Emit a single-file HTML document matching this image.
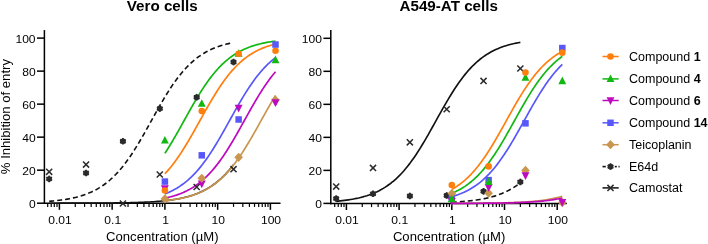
<!DOCTYPE html><html><head><meta charset="utf-8"><style>html,body{margin:0;padding:0;background:#fff;overflow:hidden}svg{display:block;will-change:transform;transform:translateZ(0)}</style></head><body>
<svg width="708" height="244" viewBox="0 0 708 244">
<rect width="708" height="244" fill="#fff"/>
<line x1="44.40" y1="30.10" x2="44.40" y2="203.95" stroke="#000" stroke-width="1.5"/>
<line x1="43.65" y1="203.20" x2="280.50" y2="203.20" stroke="#000" stroke-width="1.5"/>
<line x1="37.00" y1="203.20" x2="44.40" y2="203.20" stroke="#000" stroke-width="1.5"/>
<text transform="translate(35.60,207.60) scale(1.0250,1)" font-size="11.80" text-anchor="end" font-family="Liberation Sans, sans-serif" fill="#000">0</text>
<line x1="37.00" y1="170.18" x2="44.40" y2="170.18" stroke="#000" stroke-width="1.5"/>
<text transform="translate(35.60,174.58) scale(1.0250,1)" font-size="11.80" text-anchor="end" font-family="Liberation Sans, sans-serif" fill="#000">20</text>
<line x1="37.00" y1="137.16" x2="44.40" y2="137.16" stroke="#000" stroke-width="1.5"/>
<text transform="translate(35.60,141.56) scale(1.0250,1)" font-size="11.80" text-anchor="end" font-family="Liberation Sans, sans-serif" fill="#000">40</text>
<line x1="37.00" y1="104.14" x2="44.40" y2="104.14" stroke="#000" stroke-width="1.5"/>
<text transform="translate(35.60,108.54) scale(1.0250,1)" font-size="11.80" text-anchor="end" font-family="Liberation Sans, sans-serif" fill="#000">60</text>
<line x1="37.00" y1="71.12" x2="44.40" y2="71.12" stroke="#000" stroke-width="1.5"/>
<text transform="translate(35.60,75.52) scale(1.0250,1)" font-size="11.80" text-anchor="end" font-family="Liberation Sans, sans-serif" fill="#000">80</text>
<line x1="37.00" y1="38.10" x2="44.40" y2="38.10" stroke="#000" stroke-width="1.5"/>
<text transform="translate(35.60,42.50) scale(1.0250,1)" font-size="11.80" text-anchor="end" font-family="Liberation Sans, sans-serif" fill="#000">100</text>
<line x1="47.70" y1="203.20" x2="47.70" y2="206.90" stroke="#000" stroke-width="1.20"/>
<line x1="51.23" y1="203.20" x2="51.23" y2="206.90" stroke="#000" stroke-width="1.20"/>
<line x1="54.29" y1="203.20" x2="54.29" y2="206.90" stroke="#000" stroke-width="1.20"/>
<line x1="56.99" y1="203.20" x2="56.99" y2="206.90" stroke="#000" stroke-width="1.20"/>
<line x1="59.40" y1="203.20" x2="59.40" y2="209.80" stroke="#000" stroke-width="1.50"/>
<line x1="75.28" y1="203.20" x2="75.28" y2="206.90" stroke="#000" stroke-width="1.20"/>
<line x1="84.57" y1="203.20" x2="84.57" y2="206.90" stroke="#000" stroke-width="1.20"/>
<line x1="91.16" y1="203.20" x2="91.16" y2="206.90" stroke="#000" stroke-width="1.20"/>
<line x1="96.27" y1="203.20" x2="96.27" y2="206.90" stroke="#000" stroke-width="1.20"/>
<line x1="100.45" y1="203.20" x2="100.45" y2="206.90" stroke="#000" stroke-width="1.20"/>
<line x1="103.98" y1="203.20" x2="103.98" y2="206.90" stroke="#000" stroke-width="1.20"/>
<line x1="107.04" y1="203.20" x2="107.04" y2="206.90" stroke="#000" stroke-width="1.20"/>
<line x1="109.74" y1="203.20" x2="109.74" y2="206.90" stroke="#000" stroke-width="1.20"/>
<line x1="112.15" y1="203.20" x2="112.15" y2="209.80" stroke="#000" stroke-width="1.50"/>
<line x1="128.03" y1="203.20" x2="128.03" y2="206.90" stroke="#000" stroke-width="1.20"/>
<line x1="137.32" y1="203.20" x2="137.32" y2="206.90" stroke="#000" stroke-width="1.20"/>
<line x1="143.91" y1="203.20" x2="143.91" y2="206.90" stroke="#000" stroke-width="1.20"/>
<line x1="149.02" y1="203.20" x2="149.02" y2="206.90" stroke="#000" stroke-width="1.20"/>
<line x1="153.20" y1="203.20" x2="153.20" y2="206.90" stroke="#000" stroke-width="1.20"/>
<line x1="156.73" y1="203.20" x2="156.73" y2="206.90" stroke="#000" stroke-width="1.20"/>
<line x1="159.79" y1="203.20" x2="159.79" y2="206.90" stroke="#000" stroke-width="1.20"/>
<line x1="162.49" y1="203.20" x2="162.49" y2="206.90" stroke="#000" stroke-width="1.20"/>
<line x1="164.90" y1="203.20" x2="164.90" y2="209.80" stroke="#000" stroke-width="1.50"/>
<line x1="180.78" y1="203.20" x2="180.78" y2="206.90" stroke="#000" stroke-width="1.20"/>
<line x1="190.07" y1="203.20" x2="190.07" y2="206.90" stroke="#000" stroke-width="1.20"/>
<line x1="196.66" y1="203.20" x2="196.66" y2="206.90" stroke="#000" stroke-width="1.20"/>
<line x1="201.77" y1="203.20" x2="201.77" y2="206.90" stroke="#000" stroke-width="1.20"/>
<line x1="205.95" y1="203.20" x2="205.95" y2="206.90" stroke="#000" stroke-width="1.20"/>
<line x1="209.48" y1="203.20" x2="209.48" y2="206.90" stroke="#000" stroke-width="1.20"/>
<line x1="212.54" y1="203.20" x2="212.54" y2="206.90" stroke="#000" stroke-width="1.20"/>
<line x1="215.24" y1="203.20" x2="215.24" y2="206.90" stroke="#000" stroke-width="1.20"/>
<line x1="217.65" y1="203.20" x2="217.65" y2="209.80" stroke="#000" stroke-width="1.50"/>
<line x1="233.53" y1="203.20" x2="233.53" y2="206.90" stroke="#000" stroke-width="1.20"/>
<line x1="242.82" y1="203.20" x2="242.82" y2="206.90" stroke="#000" stroke-width="1.20"/>
<line x1="249.41" y1="203.20" x2="249.41" y2="206.90" stroke="#000" stroke-width="1.20"/>
<line x1="254.52" y1="203.20" x2="254.52" y2="206.90" stroke="#000" stroke-width="1.20"/>
<line x1="258.70" y1="203.20" x2="258.70" y2="206.90" stroke="#000" stroke-width="1.20"/>
<line x1="262.23" y1="203.20" x2="262.23" y2="206.90" stroke="#000" stroke-width="1.20"/>
<line x1="265.29" y1="203.20" x2="265.29" y2="206.90" stroke="#000" stroke-width="1.20"/>
<line x1="267.99" y1="203.20" x2="267.99" y2="206.90" stroke="#000" stroke-width="1.20"/>
<line x1="270.40" y1="203.20" x2="270.40" y2="209.80" stroke="#000" stroke-width="1.50"/>
<text transform="translate(60.00,223.50) scale(1.0250,1)" font-size="11.80" text-anchor="middle" font-family="Liberation Sans, sans-serif" fill="#000">0.01</text>
<text transform="translate(112.75,223.50) scale(1.0250,1)" font-size="11.80" text-anchor="middle" font-family="Liberation Sans, sans-serif" fill="#000">0.1</text>
<text transform="translate(165.50,223.50) scale(1.0250,1)" font-size="11.80" text-anchor="middle" font-family="Liberation Sans, sans-serif" fill="#000">1</text>
<text transform="translate(218.25,223.50) scale(1.0250,1)" font-size="11.80" text-anchor="middle" font-family="Liberation Sans, sans-serif" fill="#000">10</text>
<text transform="translate(271.00,223.50) scale(1.0250,1)" font-size="11.80" text-anchor="middle" font-family="Liberation Sans, sans-serif" fill="#000">100</text>
<text transform="translate(162.20,10.70)" font-size="15.20" text-anchor="middle" font-weight="bold" font-family="Liberation Sans, sans-serif" fill="#000">Vero cells</text>
<text transform="translate(162.30,241.20) scale(1.0750,1)" font-size="12.20" text-anchor="middle" font-family="Liberation Sans, sans-serif" fill="#000">Concentration (µM)</text>
<text transform="translate(9.80,116.60) rotate(-90) scale(1.0750,1)" font-size="12.20" text-anchor="middle" font-family="Liberation Sans, sans-serif" fill="#000">% Inhibition of entry</text>
<polyline points="49.18,203.18 51.22,203.18 53.27,203.18 55.32,203.18 57.37,203.18 59.42,203.17 61.47,203.17 63.51,203.17 65.56,203.17 67.61,203.16 69.66,203.16 71.71,203.16 73.76,203.15 75.80,203.15 77.85,203.14 79.90,203.14 81.95,203.13 84.00,203.13 86.05,203.12 88.10,203.11 90.14,203.10 92.19,203.10 94.24,203.09 96.29,203.07 98.34,203.06 100.39,203.05 102.43,203.04 104.48,203.02 106.53,203.00 108.58,202.99 110.63,202.97 112.68,202.94 114.72,202.92 116.77,202.89 118.82,202.87 120.87,202.83 122.92,202.80 124.97,202.76 127.01,202.72 129.06,202.68 131.11,202.63 133.16,202.58 135.21,202.52 137.26,202.45 139.30,202.39 141.35,202.31 143.40,202.23 145.45,202.14 147.50,202.04 149.55,201.93 151.59,201.81 153.64,201.68 155.69,201.54 157.74,201.39 159.79,201.22 161.84,201.04 163.88,200.84 165.93,200.62 167.98,200.39 170.03,200.13 172.08,199.85 174.13,199.54 176.17,199.21 178.22,198.84 180.27,198.45 182.32,198.02 184.37,197.55 186.42,197.04 188.47,196.49 190.51,195.89 192.56,195.24 194.61,194.53 196.66,193.77 198.71,192.94 200.76,192.04 202.80,191.08 204.85,190.03 206.90,188.91 208.95,187.70 211.00,186.39 213.05,185.00 215.09,183.50 217.14,181.89 219.19,180.18 221.24,178.35 223.29,176.40 225.34,174.33 227.38,172.14 229.43,169.82 231.48,167.38 233.53,164.80" fill="none" stroke="#111" stroke-width="1.60" stroke-linejoin="round"/>
<polyline points="49.18,201.32 51.19,201.15 53.21,200.96 55.22,200.76 57.24,200.54 59.26,200.30 61.27,200.03 63.29,199.75 65.30,199.44 67.32,199.10 69.33,198.73 71.35,198.34 73.37,197.90 75.38,197.43 77.40,196.92 79.41,196.37 81.43,195.77 83.45,195.12 85.46,194.41 87.48,193.65 89.49,192.83 91.51,191.94 93.52,190.98 95.54,189.95 97.56,188.84 99.57,187.64 101.59,186.35 103.60,184.98 105.62,183.50 107.64,181.92 109.65,180.24 111.67,178.44 113.68,176.53 115.70,174.51 117.71,172.36 119.73,170.09 121.75,167.70 123.76,165.19 125.78,162.55 127.79,159.80 129.81,156.92 131.83,153.94 133.84,150.84 135.86,147.65 137.87,144.36 139.89,140.98 141.90,137.54 143.92,134.03 145.94,130.47 147.95,126.87 149.97,123.25 151.98,119.62 154.00,115.99 156.02,112.38 158.03,108.81 160.05,105.27 162.06,101.80 164.08,98.39 166.09,95.07 168.11,91.83 170.13,88.69 172.14,85.66 174.16,82.73 176.17,79.93 178.19,77.24 180.21,74.67 182.22,72.23 184.24,69.91 186.25,67.71 188.27,65.63 190.28,63.67 192.30,61.83 194.32,60.09 196.33,58.47 198.35,56.95 200.36,55.53 202.38,54.20 204.39,52.97 206.41,51.82 208.43,50.75 210.44,49.76 212.46,48.85 214.47,47.99 216.49,47.21 218.51,46.48 220.52,45.81 222.54,45.18 224.55,44.61 226.57,44.08 228.58,43.60 230.60,43.15" fill="none" stroke="#111" stroke-width="1.60" stroke-linejoin="round" stroke-dasharray="5,3"/>
<polyline points="164.90,153.32 166.13,151.43 167.36,149.51 168.59,147.55 169.82,145.55 171.05,143.52 172.27,141.46 173.50,139.38 174.73,137.26 175.96,135.13 177.19,132.97 178.42,130.80 179.65,128.61 180.88,126.41 182.11,124.20 183.34,121.99 184.56,119.78 185.79,117.57 187.02,115.36 188.25,113.16 189.48,110.97 190.71,108.79 191.94,106.63 193.17,104.49 194.40,102.37 195.63,100.28 196.85,98.21 198.08,96.18 199.31,94.17 200.54,92.21 201.77,90.27 203.00,88.38 204.23,86.52 205.46,84.71 206.69,82.93 207.92,81.20 209.14,79.52 210.37,77.87 211.60,76.28 212.83,74.72 214.06,73.22 215.29,71.76 216.52,70.34 217.75,68.97 218.98,67.65 220.21,66.37 221.44,65.14 222.66,63.94 223.89,62.80 225.12,61.69 226.35,60.63 227.58,59.60 228.81,58.62 230.04,57.68 231.27,56.77 232.50,55.90 233.73,55.06 234.95,54.26 236.18,53.50 237.41,52.77 238.64,52.06 239.87,51.39 241.10,50.75 242.33,50.14 243.56,49.55 244.79,49.00 246.02,48.46 247.24,47.95 248.47,47.47 249.70,47.01 250.93,46.56 252.16,46.14 253.39,45.74 254.62,45.36 255.85,45.00 257.08,44.65 258.31,44.32 259.53,44.01 260.76,43.71 261.99,43.43 263.22,43.16 264.45,42.90 265.68,42.66 266.91,42.43 268.14,42.20 269.37,42.00 270.60,41.80 271.82,41.61 273.05,41.43 274.28,41.26 275.51,41.10" fill="none" stroke="#12b812" stroke-width="1.70" stroke-linejoin="round"/>
<polyline points="164.90,173.77 166.13,172.45 167.36,171.09 168.59,169.67 169.82,168.22 171.05,166.72 172.27,165.17 173.50,163.58 174.73,161.94 175.96,160.26 177.19,158.53 178.42,156.76 179.65,154.95 180.88,153.10 182.11,151.20 183.34,149.27 184.56,147.31 185.79,145.31 187.02,143.28 188.25,141.21 189.48,139.12 190.71,137.01 191.94,134.87 193.17,132.71 194.40,130.54 195.63,128.35 196.85,126.15 198.08,123.94 199.31,121.73 200.54,119.51 201.77,117.30 203.00,115.09 204.23,112.89 205.46,110.70 206.69,108.53 207.92,106.37 209.14,104.23 210.37,102.12 211.60,100.03 212.83,97.97 214.06,95.94 215.29,93.94 216.52,91.97 217.75,90.04 218.98,88.15 220.21,86.30 221.44,84.49 222.66,82.72 223.89,81.00 225.12,79.32 226.35,77.68 227.58,76.09 228.81,74.54 230.04,73.04 231.27,71.59 232.50,70.18 233.73,68.81 234.95,67.49 236.18,66.22 237.41,64.99 238.64,63.80 239.87,62.66 241.10,61.56 242.33,60.50 243.56,59.48 244.79,58.50 246.02,57.56 247.24,56.66 248.47,55.80 249.70,54.97 250.93,54.17 252.16,53.41 253.39,52.68 254.62,51.98 255.85,51.32 257.08,50.68 258.31,50.07 259.53,49.49 260.76,48.93 261.99,48.40 263.22,47.89 264.45,47.41 265.68,46.95 266.91,46.51 268.14,46.09 269.37,45.70 270.60,45.32 271.82,44.96 273.05,44.61 274.28,44.28 275.51,43.97" fill="none" stroke="#ff7f0e" stroke-width="1.70" stroke-linejoin="round"/>
<polyline points="164.90,193.92 166.13,193.44 167.36,192.94 168.59,192.41 169.82,191.86 171.05,191.28 172.27,190.67 173.50,190.03 174.73,189.37 175.96,188.67 177.19,187.95 178.42,187.19 179.65,186.40 180.88,185.57 182.11,184.71 183.34,183.81 184.56,182.87 185.79,181.89 187.02,180.88 188.25,179.82 189.48,178.72 190.71,177.58 191.94,176.40 193.17,175.18 194.40,173.91 195.63,172.59 196.85,171.23 198.08,169.82 199.31,168.37 200.54,166.88 201.77,165.33 203.00,163.74 204.23,162.11 205.46,160.43 206.69,158.71 207.92,156.95 209.14,155.14 210.37,153.29 211.60,151.40 212.83,149.48 214.06,147.52 215.29,145.52 216.52,143.49 217.75,141.43 218.98,139.34 220.21,137.23 221.44,135.09 222.66,132.94 223.89,130.76 225.12,128.58 226.35,126.38 227.58,124.17 228.81,121.96 230.04,119.74 231.27,117.53 232.50,115.32 233.73,113.12 234.95,110.93 236.18,108.76 237.41,106.60 238.64,104.46 239.87,102.34 241.10,100.25 242.33,98.18 243.56,96.15 244.79,94.14 246.02,92.17 247.24,90.24 248.47,88.35 249.70,86.49 250.93,84.68 252.16,82.91 253.39,81.18 254.62,79.49 255.85,77.85 257.08,76.25 258.31,74.70 259.53,73.20 260.76,71.74 261.99,70.32 263.22,68.95 264.45,67.63 265.68,66.35 266.91,65.12 268.14,63.93 269.37,62.78 270.60,61.67 271.82,60.61 273.05,59.59 274.28,58.60 275.51,57.66" fill="none" stroke="#5858fa" stroke-width="1.70" stroke-linejoin="round"/>
<polyline points="164.90,198.20 166.13,197.93 167.36,197.65 168.59,197.35 169.82,197.04 171.05,196.72 172.27,196.38 173.50,196.02 174.73,195.64 175.96,195.24 177.19,194.83 178.42,194.39 179.65,193.93 180.88,193.45 182.11,192.95 183.34,192.42 184.56,191.86 185.79,191.28 187.02,190.68 188.25,190.04 189.48,189.38 190.71,188.68 191.94,187.96 193.17,187.20 194.40,186.40 195.63,185.58 196.85,184.72 198.08,183.82 199.31,182.88 200.54,181.90 201.77,180.89 203.00,179.83 204.23,178.74 205.46,177.60 206.69,176.42 207.92,175.19 209.14,173.92 210.37,172.60 211.60,171.25 212.83,169.84 214.06,168.39 215.29,166.89 216.52,165.35 217.75,163.76 218.98,162.13 220.21,160.45 221.44,158.73 222.66,156.97 223.89,155.16 225.12,153.31 226.35,151.42 227.58,149.50 228.81,147.54 230.04,145.54 231.27,143.51 232.50,141.45 233.73,139.37 234.95,137.25 236.18,135.12 237.41,132.96 238.64,130.79 239.87,128.60 241.10,126.40 242.33,124.19 243.56,121.98 244.79,119.77 246.02,117.55 247.24,115.35 248.47,113.15 249.70,110.96 250.93,108.78 252.16,106.62 253.39,104.48 254.62,102.36 255.85,100.27 257.08,98.20 258.31,96.17 259.53,94.17 260.76,92.20 261.99,90.26 263.22,88.37 264.45,86.51 265.68,84.70 266.91,82.92 268.14,81.19 269.37,79.51 270.60,77.87 271.82,76.27 273.05,74.72 274.28,73.21 275.51,71.75" fill="none" stroke="#be0abe" stroke-width="1.70" stroke-linejoin="round"/>
<polyline points="164.90,200.75 166.13,200.62 167.36,200.48 168.59,200.33 169.82,200.18 171.05,200.02 172.27,199.84 173.50,199.66 174.73,199.47 175.96,199.27 177.19,199.06 178.42,198.84 179.65,198.61 180.88,198.36 182.11,198.10 183.34,197.83 184.56,197.54 185.79,197.24 187.02,196.93 188.25,196.59 189.48,196.25 190.71,195.88 191.94,195.50 193.17,195.09 194.40,194.67 195.63,194.22 196.85,193.76 198.08,193.27 199.31,192.75 200.54,192.22 201.77,191.65 203.00,191.07 204.23,190.45 205.46,189.80 206.69,189.13 207.92,188.42 209.14,187.68 210.37,186.91 211.60,186.11 212.83,185.27 214.06,184.39 215.29,183.48 216.52,182.53 217.75,181.54 218.98,180.51 220.21,179.44 221.44,178.33 222.66,177.17 223.89,175.97 225.12,174.73 226.35,173.44 227.58,172.11 228.81,170.74 230.04,169.31 231.27,167.85 232.50,166.33 233.73,164.78 234.95,163.17 236.18,161.52 237.41,159.83 238.64,158.09 239.87,156.31 241.10,154.49 242.33,152.63 243.56,150.73 244.79,148.79 246.02,146.81 247.24,144.80 248.47,142.76 249.70,140.69 250.93,138.60 252.16,136.47 253.39,134.33 254.62,132.17 255.85,129.99 257.08,127.80 258.31,125.60 259.53,123.39 260.76,121.17 261.99,118.96 263.22,116.75 264.45,114.54 265.68,112.34 266.91,110.16 268.14,107.99 269.37,105.83 270.60,103.70 271.82,101.59 273.05,99.51 274.28,97.46 275.51,95.43" fill="none" stroke="#c8964e" stroke-width="1.70" stroke-linejoin="round"/>
<circle cx="49.18" cy="178.93" r="2.8" fill="#2b2b2b"/>
<line x1="46.32" y1="177.28" x2="52.03" y2="180.58" stroke="#2b2b2b" stroke-width="1.8"/>
<line x1="49.18" y1="175.63" x2="49.18" y2="182.23" stroke="#2b2b2b" stroke-width="1.8"/>
<line x1="52.03" y1="177.28" x2="46.32" y2="180.58" stroke="#2b2b2b" stroke-width="1.8"/>
<circle cx="86.05" cy="172.99" r="2.8" fill="#2b2b2b"/>
<line x1="83.19" y1="171.34" x2="88.90" y2="174.64" stroke="#2b2b2b" stroke-width="1.8"/>
<line x1="86.05" y1="169.69" x2="86.05" y2="176.29" stroke="#2b2b2b" stroke-width="1.8"/>
<line x1="88.90" y1="171.34" x2="83.19" y2="174.64" stroke="#2b2b2b" stroke-width="1.8"/>
<circle cx="122.92" cy="141.29" r="2.8" fill="#2b2b2b"/>
<line x1="120.06" y1="139.64" x2="125.78" y2="142.94" stroke="#2b2b2b" stroke-width="1.8"/>
<line x1="122.92" y1="137.99" x2="122.92" y2="144.59" stroke="#2b2b2b" stroke-width="1.8"/>
<line x1="125.78" y1="139.64" x2="120.06" y2="142.94" stroke="#2b2b2b" stroke-width="1.8"/>
<circle cx="159.79" cy="108.60" r="2.8" fill="#2b2b2b"/>
<line x1="156.93" y1="106.95" x2="162.65" y2="110.25" stroke="#2b2b2b" stroke-width="1.8"/>
<line x1="159.79" y1="105.30" x2="159.79" y2="111.90" stroke="#2b2b2b" stroke-width="1.8"/>
<line x1="162.65" y1="106.95" x2="156.93" y2="110.25" stroke="#2b2b2b" stroke-width="1.8"/>
<circle cx="196.66" cy="97.21" r="2.8" fill="#2b2b2b"/>
<line x1="193.80" y1="95.56" x2="199.52" y2="98.86" stroke="#2b2b2b" stroke-width="1.8"/>
<line x1="196.66" y1="93.91" x2="196.66" y2="100.51" stroke="#2b2b2b" stroke-width="1.8"/>
<line x1="199.52" y1="95.56" x2="193.80" y2="98.86" stroke="#2b2b2b" stroke-width="1.8"/>
<circle cx="233.53" cy="62.04" r="2.8" fill="#2b2b2b"/>
<line x1="230.67" y1="60.39" x2="236.39" y2="63.69" stroke="#2b2b2b" stroke-width="1.8"/>
<line x1="233.53" y1="58.74" x2="233.53" y2="65.34" stroke="#2b2b2b" stroke-width="1.8"/>
<line x1="236.39" y1="60.39" x2="230.67" y2="63.69" stroke="#2b2b2b" stroke-width="1.8"/>
<path d="M46.13 168.78 L52.23 174.88 M46.13 174.88 L52.23 168.78" stroke="#2b2b2b" stroke-width="1.5" fill="none"/>
<path d="M83.00 161.52 L89.10 167.62 M83.00 167.62 L89.10 161.52" stroke="#2b2b2b" stroke-width="1.5" fill="none"/>
<path d="M119.87 200.48 L125.97 206.58 M119.87 206.58 L125.97 200.48" stroke="#2b2b2b" stroke-width="1.5" fill="none"/>
<path d="M156.74 171.42 L162.84 177.52 M156.74 177.52 L162.84 171.42" stroke="#2b2b2b" stroke-width="1.5" fill="none"/>
<path d="M193.61 183.97 L199.71 190.07 M193.61 190.07 L199.71 183.97" stroke="#2b2b2b" stroke-width="1.5" fill="none"/>
<path d="M230.48 166.14 L236.58 172.24 M230.48 172.24 L236.58 166.14" stroke="#2b2b2b" stroke-width="1.5" fill="none"/>
<polygon points="164.90,136.00 160.95,143.60 168.85,143.60" fill="#12b812"/>
<polygon points="201.77,99.18 197.82,106.78 205.72,106.78" fill="#12b812"/>
<polygon points="238.64,49.16 234.69,56.76 242.59,56.76" fill="#12b812"/>
<polygon points="275.51,55.60 271.56,63.20 279.46,63.20" fill="#12b812"/>
<polygon points="164.90,192.97 160.95,185.37 168.85,185.37" fill="#be0abe"/>
<polygon points="201.77,188.18 197.82,180.58 205.72,180.58" fill="#be0abe"/>
<polygon points="238.64,112.40 234.69,104.80 242.59,104.80" fill="#be0abe"/>
<polygon points="275.51,106.78 271.56,99.18 279.46,99.18" fill="#be0abe"/>
<circle cx="164.90" cy="190.49" r="3.3" fill="#ff7f0e"/>
<circle cx="201.77" cy="111.07" r="3.3" fill="#ff7f0e"/>
<circle cx="238.64" cy="53.78" r="3.3" fill="#ff7f0e"/>
<circle cx="275.51" cy="50.81" r="3.3" fill="#ff7f0e"/>
<rect x="161.65" y="178.32" width="6.50" height="6.50" fill="#5858fa"/>
<rect x="198.52" y="152.07" width="6.50" height="6.50" fill="#5858fa"/>
<rect x="235.39" y="116.24" width="6.50" height="6.50" fill="#5858fa"/>
<rect x="272.26" y="41.29" width="6.50" height="6.50" fill="#5858fa"/>
<polygon points="164.90,194.31 169.20,198.91 164.90,203.51 160.60,198.91" fill="#c8964e"/>
<polygon points="201.77,173.67 206.07,178.27 201.77,182.87 197.47,178.27" fill="#c8964e"/>
<polygon points="238.64,152.70 242.94,157.30 238.64,161.90 234.34,157.30" fill="#c8964e"/>
<polygon points="275.51,95.41 279.81,100.01 275.51,104.61 271.21,100.01" fill="#c8964e"/>
<polygon points="275.51,106.78 271.56,99.18 279.46,99.18" fill="#be0abe"/>
<line x1="330.80" y1="30.10" x2="330.80" y2="204.15" stroke="#000" stroke-width="1.5"/>
<line x1="330.05" y1="203.40" x2="566.80" y2="203.40" stroke="#000" stroke-width="1.5"/>
<line x1="323.40" y1="203.40" x2="330.80" y2="203.40" stroke="#000" stroke-width="1.5"/>
<text transform="translate(322.00,207.80) scale(1.0250,1)" font-size="11.80" text-anchor="end" font-family="Liberation Sans, sans-serif" fill="#000">0</text>
<line x1="323.40" y1="170.38" x2="330.80" y2="170.38" stroke="#000" stroke-width="1.5"/>
<text transform="translate(322.00,174.78) scale(1.0250,1)" font-size="11.80" text-anchor="end" font-family="Liberation Sans, sans-serif" fill="#000">20</text>
<line x1="323.40" y1="137.36" x2="330.80" y2="137.36" stroke="#000" stroke-width="1.5"/>
<text transform="translate(322.00,141.76) scale(1.0250,1)" font-size="11.80" text-anchor="end" font-family="Liberation Sans, sans-serif" fill="#000">40</text>
<line x1="323.40" y1="104.34" x2="330.80" y2="104.34" stroke="#000" stroke-width="1.5"/>
<text transform="translate(322.00,108.74) scale(1.0250,1)" font-size="11.80" text-anchor="end" font-family="Liberation Sans, sans-serif" fill="#000">60</text>
<line x1="323.40" y1="71.32" x2="330.80" y2="71.32" stroke="#000" stroke-width="1.5"/>
<text transform="translate(322.00,75.72) scale(1.0250,1)" font-size="11.80" text-anchor="end" font-family="Liberation Sans, sans-serif" fill="#000">80</text>
<line x1="323.40" y1="38.30" x2="330.80" y2="38.30" stroke="#000" stroke-width="1.5"/>
<text transform="translate(322.00,42.70) scale(1.0250,1)" font-size="11.80" text-anchor="end" font-family="Liberation Sans, sans-serif" fill="#000">100</text>
<line x1="334.71" y1="203.40" x2="334.71" y2="207.10" stroke="#000" stroke-width="1.20"/>
<line x1="338.24" y1="203.40" x2="338.24" y2="207.10" stroke="#000" stroke-width="1.20"/>
<line x1="341.29" y1="203.40" x2="341.29" y2="207.10" stroke="#000" stroke-width="1.20"/>
<line x1="343.99" y1="203.40" x2="343.99" y2="207.10" stroke="#000" stroke-width="1.20"/>
<line x1="346.40" y1="203.40" x2="346.40" y2="210.00" stroke="#000" stroke-width="1.50"/>
<line x1="362.26" y1="203.40" x2="362.26" y2="207.10" stroke="#000" stroke-width="1.20"/>
<line x1="371.54" y1="203.40" x2="371.54" y2="207.10" stroke="#000" stroke-width="1.20"/>
<line x1="378.13" y1="203.40" x2="378.13" y2="207.10" stroke="#000" stroke-width="1.20"/>
<line x1="383.24" y1="203.40" x2="383.24" y2="207.10" stroke="#000" stroke-width="1.20"/>
<line x1="387.41" y1="203.40" x2="387.41" y2="207.10" stroke="#000" stroke-width="1.20"/>
<line x1="390.94" y1="203.40" x2="390.94" y2="207.10" stroke="#000" stroke-width="1.20"/>
<line x1="393.99" y1="203.40" x2="393.99" y2="207.10" stroke="#000" stroke-width="1.20"/>
<line x1="396.69" y1="203.40" x2="396.69" y2="207.10" stroke="#000" stroke-width="1.20"/>
<line x1="399.10" y1="203.40" x2="399.10" y2="210.00" stroke="#000" stroke-width="1.50"/>
<line x1="414.96" y1="203.40" x2="414.96" y2="207.10" stroke="#000" stroke-width="1.20"/>
<line x1="424.24" y1="203.40" x2="424.24" y2="207.10" stroke="#000" stroke-width="1.20"/>
<line x1="430.83" y1="203.40" x2="430.83" y2="207.10" stroke="#000" stroke-width="1.20"/>
<line x1="435.94" y1="203.40" x2="435.94" y2="207.10" stroke="#000" stroke-width="1.20"/>
<line x1="440.11" y1="203.40" x2="440.11" y2="207.10" stroke="#000" stroke-width="1.20"/>
<line x1="443.64" y1="203.40" x2="443.64" y2="207.10" stroke="#000" stroke-width="1.20"/>
<line x1="446.69" y1="203.40" x2="446.69" y2="207.10" stroke="#000" stroke-width="1.20"/>
<line x1="449.39" y1="203.40" x2="449.39" y2="207.10" stroke="#000" stroke-width="1.20"/>
<line x1="451.80" y1="203.40" x2="451.80" y2="210.00" stroke="#000" stroke-width="1.50"/>
<line x1="467.66" y1="203.40" x2="467.66" y2="207.10" stroke="#000" stroke-width="1.20"/>
<line x1="476.94" y1="203.40" x2="476.94" y2="207.10" stroke="#000" stroke-width="1.20"/>
<line x1="483.53" y1="203.40" x2="483.53" y2="207.10" stroke="#000" stroke-width="1.20"/>
<line x1="488.64" y1="203.40" x2="488.64" y2="207.10" stroke="#000" stroke-width="1.20"/>
<line x1="492.81" y1="203.40" x2="492.81" y2="207.10" stroke="#000" stroke-width="1.20"/>
<line x1="496.34" y1="203.40" x2="496.34" y2="207.10" stroke="#000" stroke-width="1.20"/>
<line x1="499.39" y1="203.40" x2="499.39" y2="207.10" stroke="#000" stroke-width="1.20"/>
<line x1="502.09" y1="203.40" x2="502.09" y2="207.10" stroke="#000" stroke-width="1.20"/>
<line x1="504.50" y1="203.40" x2="504.50" y2="210.00" stroke="#000" stroke-width="1.50"/>
<line x1="520.36" y1="203.40" x2="520.36" y2="207.10" stroke="#000" stroke-width="1.20"/>
<line x1="529.64" y1="203.40" x2="529.64" y2="207.10" stroke="#000" stroke-width="1.20"/>
<line x1="536.23" y1="203.40" x2="536.23" y2="207.10" stroke="#000" stroke-width="1.20"/>
<line x1="541.34" y1="203.40" x2="541.34" y2="207.10" stroke="#000" stroke-width="1.20"/>
<line x1="545.51" y1="203.40" x2="545.51" y2="207.10" stroke="#000" stroke-width="1.20"/>
<line x1="549.04" y1="203.40" x2="549.04" y2="207.10" stroke="#000" stroke-width="1.20"/>
<line x1="552.09" y1="203.40" x2="552.09" y2="207.10" stroke="#000" stroke-width="1.20"/>
<line x1="554.79" y1="203.40" x2="554.79" y2="207.10" stroke="#000" stroke-width="1.20"/>
<line x1="557.20" y1="203.40" x2="557.20" y2="210.00" stroke="#000" stroke-width="1.50"/>
<text transform="translate(347.00,223.50) scale(1.0250,1)" font-size="11.80" text-anchor="middle" font-family="Liberation Sans, sans-serif" fill="#000">0.01</text>
<text transform="translate(399.70,223.50) scale(1.0250,1)" font-size="11.80" text-anchor="middle" font-family="Liberation Sans, sans-serif" fill="#000">0.1</text>
<text transform="translate(452.40,223.50) scale(1.0250,1)" font-size="11.80" text-anchor="middle" font-family="Liberation Sans, sans-serif" fill="#000">1</text>
<text transform="translate(505.10,223.50) scale(1.0250,1)" font-size="11.80" text-anchor="middle" font-family="Liberation Sans, sans-serif" fill="#000">10</text>
<text transform="translate(557.80,223.50) scale(1.0250,1)" font-size="11.80" text-anchor="middle" font-family="Liberation Sans, sans-serif" fill="#000">100</text>
<text transform="translate(448.70,10.70)" font-size="15.20" text-anchor="middle" font-weight="bold" font-family="Liberation Sans, sans-serif" fill="#000">A549-AT cells</text>
<text transform="translate(449.10,241.20) scale(1.0750,1)" font-size="12.20" text-anchor="middle" font-family="Liberation Sans, sans-serif" fill="#000">Concentration (µM)</text>
<polyline points="336.19,201.31 338.23,201.12 340.28,200.91 342.32,200.68 344.37,200.43 346.42,200.16 348.46,199.86 350.51,199.54 352.56,199.19 354.60,198.81 356.65,198.39 358.70,197.94 360.74,197.44 362.79,196.91 364.84,196.33 366.88,195.70 368.93,195.01 370.97,194.27 373.02,193.47 375.07,192.60 377.11,191.66 379.16,190.65 381.21,189.56 383.25,188.38 385.30,187.11 387.35,185.75 389.39,184.29 391.44,182.73 393.49,181.06 395.53,179.27 397.58,177.37 399.62,175.35 401.67,173.21 403.72,170.94 405.76,168.55 407.81,166.02 409.86,163.38 411.90,160.60 413.95,157.71 416.00,154.69 418.04,151.57 420.09,148.34 422.14,145.01 424.18,141.59 426.23,138.10 428.27,134.54 430.32,130.92 432.37,127.27 434.41,123.59 436.46,119.90 438.51,116.22 440.55,112.55 442.60,108.92 444.65,105.33 446.69,101.80 448.74,98.34 450.79,94.97 452.83,91.69 454.88,88.51 456.92,85.45 458.97,82.49 461.02,79.66 463.06,76.95 465.11,74.37 467.16,71.91 469.20,69.58 471.25,67.37 473.30,65.29 475.34,63.34 477.39,61.50 479.44,59.77 481.48,58.15 483.53,56.64 485.57,55.24 487.62,53.92 489.67,52.71 491.71,51.57 493.76,50.52 495.81,49.55 497.85,48.65 499.90,47.81 501.95,47.04 503.99,46.33 506.04,45.67 508.09,45.07 510.13,44.51 512.18,44.00 514.22,43.53 516.27,43.09 518.32,42.69 520.36,42.33" fill="none" stroke="#111" stroke-width="1.65" stroke-linejoin="round"/>
<polyline points="451.80,202.23 452.56,202.19 453.32,202.15 454.09,202.11 454.85,202.06 455.61,202.02 456.37,201.97 457.13,201.92 457.89,201.88 458.66,201.82 459.42,201.77 460.18,201.72 460.94,201.66 461.70,201.60 462.47,201.54 463.23,201.48 463.99,201.42 464.75,201.35 465.51,201.28 466.27,201.21 467.04,201.14 467.80,201.06 468.56,200.98 469.32,200.90 470.08,200.82 470.85,200.73 471.61,200.64 472.37,200.55 473.13,200.46 473.89,200.36 474.65,200.26 475.42,200.16 476.18,200.05 476.94,199.94 477.70,199.82 478.46,199.70 479.23,199.58 479.99,199.46 480.75,199.33 481.51,199.19 482.27,199.05 483.03,198.91 483.80,198.76 484.56,198.61 485.32,198.45 486.08,198.29 486.84,198.12 487.61,197.95 488.37,197.77 489.13,197.59 489.89,197.40 490.65,197.20 491.41,197.00 492.18,196.79 492.94,196.58 493.70,196.36 494.46,196.13 495.22,195.89 495.99,195.65 496.75,195.40 497.51,195.15 498.27,194.88 499.03,194.61 499.79,194.33 500.56,194.04 501.32,193.74 502.08,193.43 502.84,193.11 503.60,192.79 504.37,192.45 505.13,192.11 505.89,191.75 506.65,191.39 507.41,191.01 508.18,190.62 508.94,190.23 509.70,189.82 510.46,189.40 511.22,188.96 511.98,188.52 512.75,188.06 513.51,187.59 514.27,187.11 515.03,186.62 515.79,186.11 516.56,185.59 517.32,185.05 518.08,184.50 518.84,183.93 519.60,183.36 520.36,182.76" fill="none" stroke="#111" stroke-width="1.60" stroke-linejoin="round" stroke-dasharray="5,3"/>
<polyline points="451.80,189.41 453.03,188.71 454.26,187.97 455.48,187.20 456.71,186.40 457.94,185.57 459.17,184.70 460.40,183.79 461.62,182.84 462.85,181.86 464.08,180.83 465.31,179.77 466.53,178.66 467.76,177.51 468.99,176.32 470.22,175.08 471.45,173.80 472.67,172.47 473.90,171.10 475.13,169.69 476.36,168.22 477.59,166.72 478.81,165.16 480.04,163.56 481.27,161.92 482.50,160.23 483.72,158.50 484.95,156.72 486.18,154.91 487.41,153.05 488.64,151.15 489.86,149.22 491.09,147.25 492.32,145.24 493.55,143.21 494.78,141.14 496.00,139.05 497.23,136.93 498.46,134.79 499.69,132.63 500.91,130.45 502.14,128.26 503.37,126.06 504.60,123.85 505.83,121.64 507.05,119.42 508.28,117.21 509.51,115.00 510.74,112.80 511.97,110.62 513.19,108.44 514.42,106.29 515.65,104.15 516.88,102.04 518.10,99.96 519.33,97.90 520.56,95.87 521.79,93.88 523.02,91.92 524.24,89.99 525.47,88.11 526.70,86.26 527.93,84.46 529.16,82.69 530.38,80.97 531.61,79.30 532.84,77.67 534.07,76.08 535.29,74.54 536.52,73.05 537.75,71.60 538.98,70.19 540.21,68.84 541.43,67.52 542.66,66.26 543.89,65.03 545.12,63.85 546.35,62.71 547.57,61.62 548.80,60.57 550.03,59.55 551.26,58.58 552.48,57.64 553.71,56.75 554.94,55.89 556.17,55.06 557.40,54.27 558.62,53.51 559.85,52.79 561.08,52.09 562.31,51.43" fill="none" stroke="#ff7f0e" stroke-width="1.70" stroke-linejoin="round"/>
<polyline points="451.80,193.33 453.03,192.81 454.26,192.27 455.48,191.70 456.71,191.10 457.94,190.48 459.17,189.82 460.40,189.14 461.62,188.43 462.85,187.68 464.08,186.90 465.31,186.09 466.53,185.24 467.76,184.35 468.99,183.43 470.22,182.47 471.45,181.47 472.67,180.43 473.90,179.34 475.13,178.22 476.36,177.05 477.59,175.84 478.81,174.59 480.04,173.29 481.27,171.95 482.50,170.56 483.72,169.13 484.95,167.65 486.18,166.12 487.41,164.55 488.64,162.93 489.86,161.27 491.09,159.57 492.32,157.82 493.55,156.03 494.78,154.20 496.00,152.32 497.23,150.41 498.46,148.46 499.69,146.48 500.91,144.46 502.14,142.41 503.37,140.34 504.60,138.23 505.83,136.10 507.05,133.95 508.28,131.79 509.51,129.61 510.74,127.41 511.97,125.21 513.19,122.99 514.42,120.78 515.65,118.57 516.88,116.36 518.10,114.15 519.33,111.96 520.56,109.78 521.79,107.61 523.02,105.46 524.24,103.34 525.47,101.23 526.70,99.16 527.93,97.11 529.16,95.10 530.38,93.12 531.61,91.17 532.84,89.26 534.07,87.39 535.29,85.56 536.52,83.77 537.75,82.02 538.98,80.32 540.21,78.66 541.43,77.05 542.66,75.48 543.89,73.96 545.12,72.48 546.35,71.05 547.57,69.66 548.80,68.32 550.03,67.03 551.26,65.78 552.48,64.57 553.71,63.41 554.94,62.29 556.17,61.21 557.40,60.17 558.62,59.17 559.85,58.21 561.08,57.29 562.31,56.41" fill="none" stroke="#12b812" stroke-width="1.70" stroke-linejoin="round"/>
<polyline points="451.80,196.66 453.03,196.31 454.26,195.93 455.48,195.54 456.71,195.13 457.94,194.70 459.17,194.24 460.40,193.77 461.62,193.27 462.85,192.75 464.08,192.20 465.31,191.63 466.53,191.03 467.76,190.40 468.99,189.74 470.22,189.06 471.45,188.34 472.67,187.59 473.90,186.80 475.13,185.98 476.36,185.13 477.59,184.24 478.81,183.31 480.04,182.35 481.27,181.34 482.50,180.30 483.72,179.21 484.95,178.08 486.18,176.91 487.41,175.69 488.64,174.44 489.86,173.13 491.09,171.78 492.32,170.39 493.55,168.95 494.78,167.46 496.00,165.93 497.23,164.36 498.46,162.73 499.69,161.07 500.91,159.36 502.14,157.60 503.37,155.81 504.60,153.97 505.83,152.09 507.05,150.17 508.28,148.22 509.51,146.23 510.74,144.21 511.97,142.16 513.19,140.08 514.42,137.97 515.65,135.84 516.88,133.69 518.10,131.52 519.33,129.34 520.56,127.14 521.79,124.94 523.02,122.72 524.24,120.51 525.47,118.30 526.70,116.09 527.93,113.88 529.16,111.69 530.38,109.51 531.61,107.35 532.84,105.20 534.07,103.08 535.29,100.98 536.52,98.91 537.75,96.86 538.98,94.85 540.21,92.88 541.43,90.93 542.66,89.03 543.89,87.16 545.12,85.34 546.35,83.55 547.57,81.81 548.80,80.12 550.03,78.46 551.26,76.86 552.48,75.29 553.71,73.78 554.94,72.30 556.17,70.88 557.40,69.50 558.62,68.16 559.85,66.87 561.08,65.63 562.31,64.43" fill="none" stroke="#5858fa" stroke-width="1.70" stroke-linejoin="round"/>
<polyline points="451.80,203.34 453.03,203.34 454.26,203.33 455.48,203.33 456.71,203.33 457.94,203.32 459.17,203.32 460.40,203.31 461.62,203.31 462.85,203.30 464.08,203.30 465.31,203.29 466.53,203.29 467.76,203.28 468.99,203.27 470.22,203.27 471.45,203.26 472.67,203.25 473.90,203.24 475.13,203.24 476.36,203.23 477.59,203.22 478.81,203.21 480.04,203.20 481.27,203.19 482.50,203.17 483.72,203.16 484.95,203.15 486.18,203.13 487.41,203.12 488.64,203.10 489.86,203.09 491.09,203.07 492.32,203.05 493.55,203.03 494.78,203.01 496.00,202.99 497.23,202.97 498.46,202.95 499.69,202.92 500.91,202.89 502.14,202.87 503.37,202.84 504.60,202.81 505.83,202.77 507.05,202.74 508.28,202.70 509.51,202.66 510.74,202.62 511.97,202.58 513.19,202.54 514.42,202.49 515.65,202.44 516.88,202.39 518.10,202.33 519.33,202.27 520.56,202.21 521.79,202.15 523.02,202.08 524.24,202.00 525.47,201.93 526.70,201.85 527.93,201.76 529.16,201.67 530.38,201.58 531.61,201.48 532.84,201.38 534.07,201.27 535.29,201.15 536.52,201.03 537.75,200.90 538.98,200.76 540.21,200.62 541.43,200.47 542.66,200.31 543.89,200.15 545.12,199.97 546.35,199.78 547.57,199.59 548.80,199.39 550.03,199.17 551.26,198.94 552.48,198.70 553.71,198.45 554.94,198.19 556.17,197.91 557.40,197.62 558.62,197.31 559.85,196.99 561.08,196.65 562.31,196.30" fill="none" stroke="#c8964e" stroke-width="1.70" stroke-linejoin="round"/>
<polyline points="451.80,203.35 453.03,203.35 454.26,203.35 455.48,203.35 456.71,203.34 457.94,203.34 459.17,203.34 460.40,203.33 461.62,203.33 462.85,203.33 464.08,203.32 465.31,203.32 466.53,203.31 467.76,203.31 468.99,203.30 470.22,203.30 471.45,203.29 472.67,203.29 473.90,203.28 475.13,203.28 476.36,203.27 477.59,203.26 478.81,203.25 480.04,203.25 481.27,203.24 482.50,203.23 483.72,203.22 484.95,203.21 486.18,203.20 487.41,203.19 488.64,203.17 489.86,203.16 491.09,203.15 492.32,203.14 493.55,203.12 494.78,203.11 496.00,203.09 497.23,203.07 498.46,203.05 499.69,203.04 500.91,203.02 502.14,202.99 503.37,202.97 504.60,202.95 505.83,202.92 507.05,202.90 508.28,202.87 509.51,202.84 510.74,202.81 511.97,202.78 513.19,202.74 514.42,202.71 515.65,202.67 516.88,202.63 518.10,202.59 519.33,202.54 520.56,202.50 521.79,202.45 523.02,202.39 524.24,202.34 525.47,202.28 526.70,202.22 527.93,202.15 529.16,202.09 530.38,202.01 531.61,201.94 532.84,201.86 534.07,201.77 535.29,201.69 536.52,201.59 537.75,201.49 538.98,201.39 540.21,201.28 541.43,201.17 542.66,201.04 543.89,200.92 545.12,200.78 546.35,200.64 547.57,200.49 548.80,200.33 550.03,200.17 551.26,199.99 552.48,199.81 553.71,199.62 554.94,199.41 556.17,199.20 557.40,198.97 558.62,198.74 559.85,198.49 561.08,198.22 562.31,197.95" fill="none" stroke="#be0abe" stroke-width="1.70" stroke-linejoin="round"/>
<circle cx="336.19" cy="198.61" r="2.8" fill="#2b2b2b"/>
<line x1="333.33" y1="196.96" x2="339.04" y2="200.26" stroke="#2b2b2b" stroke-width="1.8"/>
<line x1="336.19" y1="195.31" x2="336.19" y2="201.91" stroke="#2b2b2b" stroke-width="1.8"/>
<line x1="339.04" y1="196.96" x2="333.33" y2="200.26" stroke="#2b2b2b" stroke-width="1.8"/>
<circle cx="373.02" cy="193.82" r="2.8" fill="#2b2b2b"/>
<line x1="370.16" y1="192.17" x2="375.88" y2="195.47" stroke="#2b2b2b" stroke-width="1.8"/>
<line x1="373.02" y1="190.52" x2="373.02" y2="197.12" stroke="#2b2b2b" stroke-width="1.8"/>
<line x1="375.88" y1="192.17" x2="370.16" y2="195.47" stroke="#2b2b2b" stroke-width="1.8"/>
<circle cx="409.86" cy="195.97" r="2.8" fill="#2b2b2b"/>
<line x1="407.00" y1="194.32" x2="412.72" y2="197.62" stroke="#2b2b2b" stroke-width="1.8"/>
<line x1="409.86" y1="192.67" x2="409.86" y2="199.27" stroke="#2b2b2b" stroke-width="1.8"/>
<line x1="412.72" y1="194.32" x2="407.00" y2="197.62" stroke="#2b2b2b" stroke-width="1.8"/>
<circle cx="446.69" cy="195.48" r="2.8" fill="#2b2b2b"/>
<line x1="443.83" y1="193.83" x2="449.55" y2="197.13" stroke="#2b2b2b" stroke-width="1.8"/>
<line x1="446.69" y1="192.18" x2="446.69" y2="198.78" stroke="#2b2b2b" stroke-width="1.8"/>
<line x1="449.55" y1="193.83" x2="443.83" y2="197.13" stroke="#2b2b2b" stroke-width="1.8"/>
<circle cx="483.53" cy="191.35" r="2.8" fill="#2b2b2b"/>
<line x1="480.67" y1="189.70" x2="486.39" y2="193.00" stroke="#2b2b2b" stroke-width="1.8"/>
<line x1="483.53" y1="188.05" x2="483.53" y2="194.65" stroke="#2b2b2b" stroke-width="1.8"/>
<line x1="486.39" y1="189.70" x2="480.67" y2="193.00" stroke="#2b2b2b" stroke-width="1.8"/>
<circle cx="520.36" cy="181.94" r="2.8" fill="#2b2b2b"/>
<line x1="517.51" y1="180.29" x2="523.22" y2="183.59" stroke="#2b2b2b" stroke-width="1.8"/>
<line x1="520.36" y1="178.64" x2="520.36" y2="185.24" stroke="#2b2b2b" stroke-width="1.8"/>
<line x1="523.22" y1="180.29" x2="517.51" y2="183.59" stroke="#2b2b2b" stroke-width="1.8"/>
<path d="M333.14 183.51 L339.24 189.61 M333.14 189.61 L339.24 183.51" stroke="#2b2b2b" stroke-width="1.5" fill="none"/>
<path d="M369.97 164.85 L376.07 170.95 M369.97 170.95 L376.07 164.85" stroke="#2b2b2b" stroke-width="1.5" fill="none"/>
<path d="M406.81 139.26 L412.91 145.36 M406.81 145.36 L412.91 139.26" stroke="#2b2b2b" stroke-width="1.5" fill="none"/>
<path d="M443.64 106.24 L449.74 112.34 M443.64 112.34 L449.74 106.24" stroke="#2b2b2b" stroke-width="1.5" fill="none"/>
<path d="M480.48 77.85 L486.58 83.95 M480.48 83.95 L486.58 77.85" stroke="#2b2b2b" stroke-width="1.5" fill="none"/>
<path d="M517.31 65.46 L523.41 71.56 M517.31 71.56 L523.41 65.46" stroke="#2b2b2b" stroke-width="1.5" fill="none"/>
<rect x="448.55" y="195.36" width="6.50" height="6.50" fill="#5858fa"/>
<rect x="485.39" y="176.87" width="6.50" height="6.50" fill="#5858fa"/>
<rect x="522.22" y="120.08" width="6.50" height="6.50" fill="#5858fa"/>
<rect x="559.06" y="44.79" width="6.50" height="6.50" fill="#5858fa"/>
<polygon points="451.80,188.89 456.10,193.49 451.80,198.09 447.50,193.49" fill="#c8964e"/>
<polygon points="488.64,188.56 492.94,193.16 488.64,197.76 484.34,193.16" fill="#c8964e"/>
<polygon points="525.47,165.78 529.77,170.38 525.47,174.98 521.17,170.38" fill="#c8964e"/>
<polygon points="562.31,197.97 566.61,202.57 562.31,207.17 558.01,202.57" fill="#c8964e"/>
<polygon points="451.80,205.71 447.85,198.11 455.75,198.11" fill="#be0abe"/>
<polygon points="488.64,191.85 484.69,184.25 492.59,184.25" fill="#be0abe"/>
<polygon points="525.47,179.96 521.52,172.36 529.42,172.36" fill="#be0abe"/>
<polygon points="562.31,206.70 558.36,199.10 566.26,199.10" fill="#be0abe"/>
<polygon points="451.80,194.65 447.85,202.25 455.75,202.25" fill="#12b812"/>
<polygon points="488.64,177.31 484.69,184.91 492.59,184.91" fill="#12b812"/>
<polygon points="525.47,73.13 521.52,80.73 529.42,80.73" fill="#12b812"/>
<polygon points="562.31,76.60 558.36,84.20 566.26,84.20" fill="#12b812"/>
<circle cx="451.80" cy="185.07" r="3.3" fill="#ff7f0e"/>
<circle cx="488.64" cy="166.42" r="3.3" fill="#ff7f0e"/>
<circle cx="525.47" cy="72.48" r="3.3" fill="#ff7f0e"/>
<circle cx="562.31" cy="52.66" r="3.3" fill="#ff7f0e"/>
<line x1="602.5" y1="56.50" x2="618.7" y2="56.50" stroke="#ff7f0e" stroke-width="1.5"/>
<circle cx="610.50" cy="56.50" r="3.3" fill="#ff7f0e"/>
<text x="629.0" y="61.00" font-size="12.5" font-family="Liberation Sans, sans-serif" fill="#000">Compound <tspan font-weight="bold">1</tspan></text>
<line x1="602.5" y1="78.90" x2="618.7" y2="78.90" stroke="#12b812" stroke-width="1.5"/>
<polygon points="610.50,74.50 606.55,82.10 614.45,82.10" fill="#12b812"/>
<text x="629.0" y="83.40" font-size="12.5" font-family="Liberation Sans, sans-serif" fill="#000">Compound <tspan font-weight="bold">4</tspan></text>
<line x1="602.5" y1="100.50" x2="618.7" y2="100.50" stroke="#be0abe" stroke-width="1.5"/>
<polygon points="610.50,104.90 606.55,97.30 614.45,97.30" fill="#be0abe"/>
<text x="629.0" y="105.00" font-size="12.5" font-family="Liberation Sans, sans-serif" fill="#000">Compound <tspan font-weight="bold">6</tspan></text>
<line x1="602.5" y1="122.80" x2="618.7" y2="122.80" stroke="#5858fa" stroke-width="1.5"/>
<rect x="607.25" y="119.55" width="6.50" height="6.50" fill="#5858fa"/>
<text x="629.0" y="127.30" font-size="12.5" font-family="Liberation Sans, sans-serif" fill="#000">Compound <tspan font-weight="bold">14</tspan></text>
<line x1="602.5" y1="144.70" x2="618.7" y2="144.70" stroke="#c8964e" stroke-width="1.5"/>
<polygon points="610.50,140.10 614.80,144.70 610.50,149.30 606.20,144.70" fill="#c8964e"/>
<text x="629.0" y="149.20" font-size="12.5" font-family="Liberation Sans, sans-serif" fill="#000">Teicoplanin<tspan font-weight="bold"></tspan></text>
<line x1="602.50" y1="166.60" x2="605.80" y2="166.60" stroke="#111" stroke-width="1.6"/>
<line x1="614.80" y1="166.60" x2="616.80" y2="166.60" stroke="#111" stroke-width="1.6"/>
<line x1="618.50" y1="166.60" x2="619.60" y2="166.60" stroke="#111" stroke-width="1.6"/>
<circle cx="610.50" cy="166.60" r="2.8" fill="#2b2b2b"/>
<line x1="607.64" y1="164.95" x2="613.36" y2="168.25" stroke="#2b2b2b" stroke-width="1.8"/>
<line x1="610.50" y1="163.30" x2="610.50" y2="169.90" stroke="#2b2b2b" stroke-width="1.8"/>
<line x1="613.36" y1="164.95" x2="607.64" y2="168.25" stroke="#2b2b2b" stroke-width="1.8"/>
<text x="629.0" y="171.10" font-size="12.5" font-family="Liberation Sans, sans-serif" fill="#000">E64d<tspan font-weight="bold"></tspan></text>
<line x1="602.5" y1="187.90" x2="618.7" y2="187.90" stroke="#111" stroke-width="1.5"/>
<path d="M607.45 184.85 L613.55 190.95 M607.45 190.95 L613.55 184.85" stroke="#2b2b2b" stroke-width="1.5" fill="none"/>
<text x="629.0" y="192.40" font-size="12.5" font-family="Liberation Sans, sans-serif" fill="#000">Camostat<tspan font-weight="bold"></tspan></text>
</svg></body></html>
